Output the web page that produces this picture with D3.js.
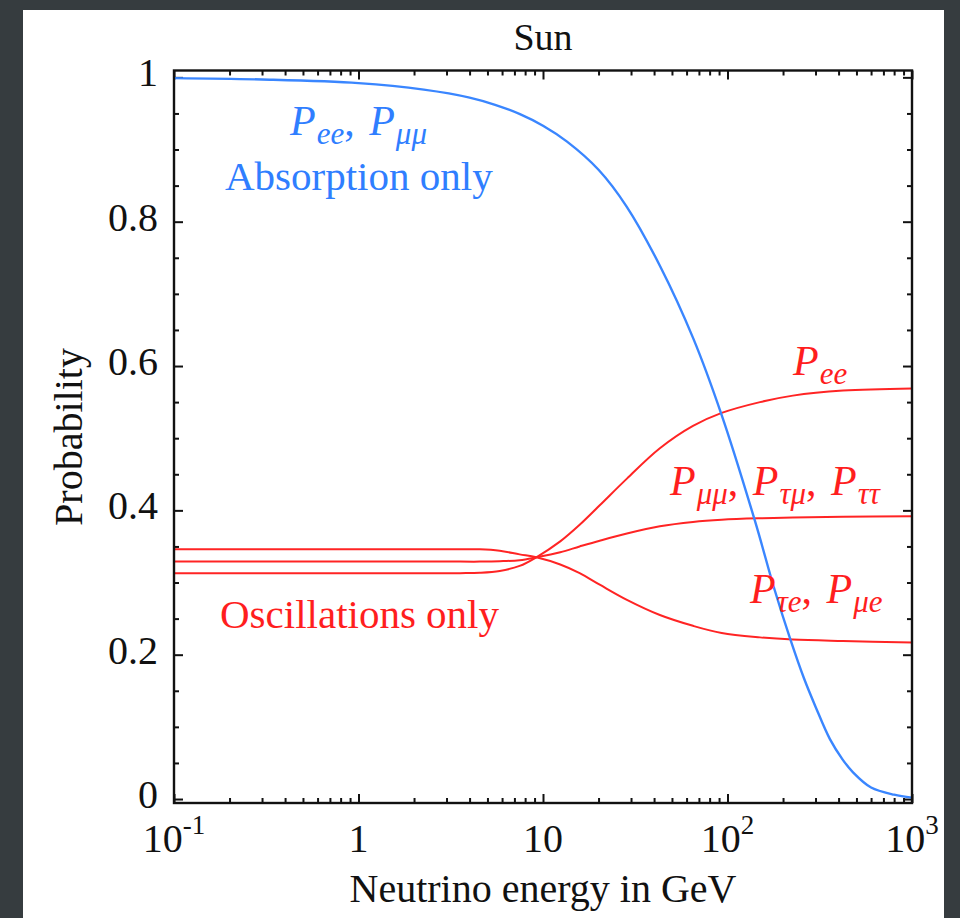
<!DOCTYPE html>
<html>
<head>
<meta charset="utf-8">
<script src="https://cdn.jsdelivr.net/npm/d3@7"></script>
<style>
  html, body { margin: 0; padding: 0; background: #363c3f; }
  svg { display: block; }
</style>
</head>
<body>
<svg id="chart" width="960" height="918"></svg>
<script>
// Neutrino energies (GeV) and probabilities for each curve
const absorptionE = [0.1, 0.3, 1, 2.26, 4, 5.5, 7.5, 10, 13.5, 20, 28.4, 43.2, 65.3, 93, 141, 180, 218, 260, 300, 359, 420, 479, 600, 800, 1000];
const absorptionP = [0.999, 0.997, 0.992, 0.983, 0.972, 0.962, 0.949, 0.933, 0.911, 0.872, 0.821, 0.738, 0.638, 0.532, 0.385, 0.290, 0.223, 0.167, 0.128, 0.083, 0.055, 0.037, 0.016, 0.006, 0.002];

const oscE = [0.1, 1, 3.55, 4.55, 5.83, 7.47, 9.2, 12.4, 15.8, 20.3, 28.5, 43, 65, 93, 150, 226, 423, 1000];
const oscPee = [0.313, 0.313, 0.313, 0.3135, 0.316, 0.323, 0.335, 0.357, 0.380, 0.407, 0.444, 0.486, 0.517, 0.535, 0.550, 0.559, 0.566, 0.569];
const oscPmumu = [0.329, 0.329, 0.329, 0.329, 0.3295, 0.331, 0.335, 0.342, 0.350, 0.358, 0.368, 0.378, 0.384, 0.387, 0.389, 0.390, 0.391, 0.392];
const oscPtaue = [0.346, 0.346, 0.346, 0.346, 0.344, 0.339, 0.335, 0.325, 0.313, 0.297, 0.276, 0.255, 0.240, 0.230, 0.224, 0.221, 0.219, 0.217];

const xMajorTicks = [0.1, 1, 10, 100, 1000];
const xTickLabels = [["10", "-1"], ["1", ""], ["10", ""], ["10", "2"], ["10", "3"]];
const yMajorTicks = [0, 0.2, 0.4, 0.6, 0.8, 1];
const yTickLabels = ["0", "0.2", "0.4", "0.6", "0.8", "1"];

const BLUE = "#3a86ff", RED = "#ff2424";
const BLUE_TEXT = "#2f7eff", RED_TEXT = "#ff1e1e";
const SERIF = '"Liberation Serif", "Times New Roman", "DejaVu Serif", serif';

const svg = d3.select("#chart");

// page panel
svg.append("rect").attr("x", 0).attr("y", 0).attr("width", 960).attr("height", 918).attr("fill", "#363c3f");
svg.append("rect").attr("x", 23).attr("y", 10).attr("width", 921).attr("height", 908).attr("fill", "#ffffff");

const plotL = 174, plotR = 912, plotT = 70.5, plotB = 803;
const x = d3.scaleLog().domain([0.1, 1000]).range([plotL, plotR]);
const y = d3.scaleLinear().domain([-0.0055, 1.0095]).range([plotB, plotT]);

const xMinorTicks = [];
for (let d = 0.1; d < 1000; d *= 10) for (let k = 2; k <= 9; k++) xMinorTicks.push(+(d * k).toPrecision(3));
const yMinorTicks = d3.range(0, 1.0001, 0.05).map(v => +v.toFixed(2)).filter(v => !yMajorTicks.includes(v));

function tickAxis(axisFn, scale, values, size) {
  return axisFn(scale).tickValues(values).tickSize(-size).tickFormat("");
}
const axes = [
  [d3.axisBottom, x, `translate(0,${plotB})`],
  [d3.axisTop, x, `translate(0,${plotT})`],
  [d3.axisLeft, y, `translate(${plotL},0)`],
  [d3.axisRight, y, `translate(${plotR},0)`]
];
axes.forEach(([fn, sc, tr], i) => {
  const isX = i < 2;
  const major = isX ? xMajorTicks : yMajorTicks;
  const minor = isX ? xMinorTicks : yMinorTicks;
  [[major, 9], [minor, 5]].forEach(([vals, len]) => {
    const g = svg.append("g").attr("transform", tr).call(tickAxis(fn, sc, vals, len));
    g.select(".domain").remove();
    g.selectAll("line").attr("stroke", "#111").attr("stroke-width", 2);
  });
});

// curves
const line = d3.line().x(d => x(d[0])).y(d => y(d[1])).curve(d3.curveCatmullRom.alpha(0.5));
svg.append("clipPath").attr("id", "plotClip").append("rect")
  .attr("x", plotL).attr("y", plotT).attr("width", plotR - plotL).attr("height", plotB - plotT);

const plot = svg.append("g").attr("clip-path", "url(#plotClip)");
[oscPee, oscPmumu, oscPtaue].forEach(vals => {
  plot.append("path").datum(oscE.map((e, i) => [e, vals[i]]))
    .attr("d", line).attr("fill", "none").attr("stroke", RED).attr("stroke-width", 2);
});
plot.append("path").datum(absorptionE.map((e, i) => [e, absorptionP[i]]))
  .attr("d", line).attr("fill", "none").attr("stroke", BLUE).attr("stroke-width", 2.4);

// frame
svg.append("rect").attr("x", plotL).attr("y", plotT).attr("width", plotR - plotL).attr("height", plotB - plotT)
  .attr("fill", "none").attr("stroke", "#111").attr("stroke-width", 2.4);

function addText(parent) {
  return parent.append("text").style("font-family", SERIF);
}

// tick labels
yMajorTicks.forEach((v, i) => {
  addText(svg).attr("x", 158).attr("y", y(v) + 9).attr("text-anchor", "end")
    .attr("font-size", 40).attr("fill", "#111").text(yTickLabels[i]);
});
xMajorTicks.forEach((v, i) => {
  const t = addText(svg).attr("x", x(v)).attr("y", 852).attr("text-anchor", "middle")
    .attr("font-size", 40).attr("fill", "#111");
  const [base, sup] = xTickLabels[i];
  t.append("tspan").text(base);
  if (sup) t.append("tspan").attr("font-size", 27).attr("dy", -18).text(sup);
});

// titles
addText(svg).attr("x", 543).attr("y", 50).attr("text-anchor", "middle")
  .attr("font-size", 38).attr("fill", "#111").text("Sun");
addText(svg).attr("x", 543).attr("y", 902).attr("text-anchor", "middle")
  .attr("font-size", 40).attr("fill", "#111").text("Neutrino energy in GeV");
addText(svg).attr("transform", "translate(82,437) rotate(-90)").attr("text-anchor", "middle")
  .attr("font-size", 40).attr("fill", "#111").text("Probability");

// curve labels: [symbol, subscript] pairs joined by commas
function probLabel(px, py, parts, color) {
  const t = addText(svg).attr("x", px).attr("y", py).attr("fill", color)
    .attr("font-size", 42).attr("font-style", "italic");
  parts.forEach((p, i) => {
    if (i > 0) t.append("tspan").attr("dy", -9).attr("font-style", "normal").text(", ");
    t.append("tspan").attr("dx", i > 0 ? 4 : 0).text("P");
    t.append("tspan").attr("font-size", 31).attr("dy", 9).attr("dx", 1).text(p);
  });
}
probLabel(290, 135, ["ee", "μμ"], BLUE_TEXT);
probLabel(793, 375, ["ee"], RED_TEXT);
probLabel(670, 495, ["μμ", "τμ", "ττ"], RED_TEXT);
probLabel(750, 603, ["τe", "μe"], RED_TEXT);

addText(svg).attr("x", 225).attr("y", 190).attr("font-size", 41).attr("fill", BLUE_TEXT).text("Absorption only");
addText(svg).attr("x", 220).attr("y", 628).attr("font-size", 41).attr("fill", RED_TEXT).text("Oscillations only");
</script>
</body>
</html>
